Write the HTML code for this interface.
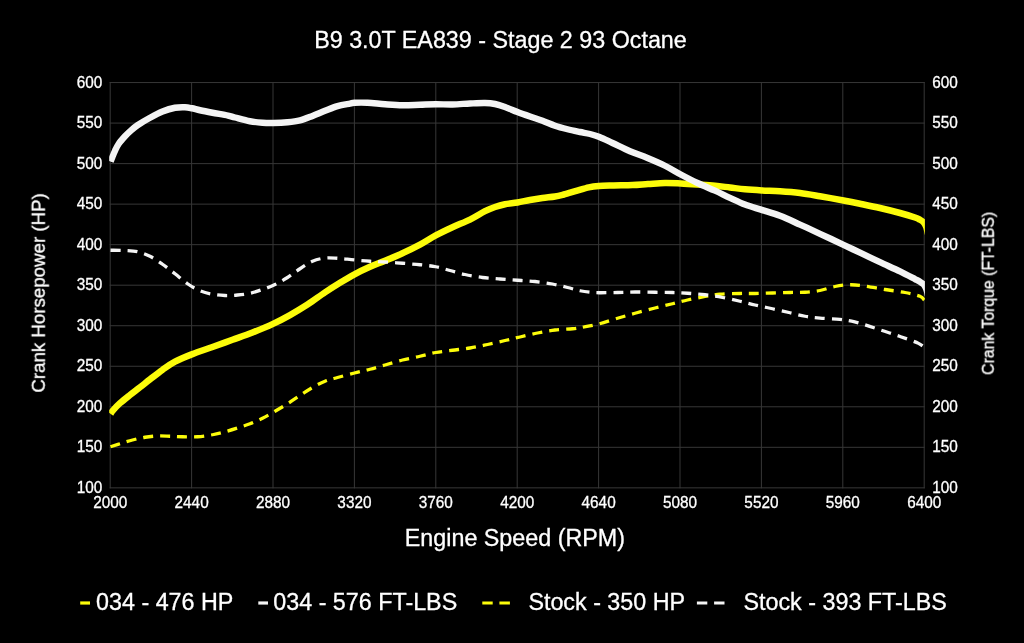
<!DOCTYPE html>
<html><head><meta charset="utf-8"><title>B9 3.0T EA839 - Stage 2 93 Octane</title>
<style>html,body{margin:0;padding:0;background:#000;}body{width:1024px;height:643px;overflow:hidden;}svg{display:block;}text{font-family:"Liberation Sans",sans-serif;fill:#fff;stroke:#fff;stroke-width:0.3px;}</style></head><body>
<svg width="1024" height="643" viewBox="0 0 1024 643">
<rect width="1024" height="643" fill="#000"/>
<defs><clipPath id="pc"><rect x="109.20" y="77.55" width="815.70" height="415.30"/></clipPath></defs>
<path d="M110.20,82.05V488.35M191.60,82.05V488.35M273.00,82.05V488.35M354.40,82.05V488.35M435.80,82.05V488.35M517.20,82.05V488.35M598.60,82.05V488.35M680.00,82.05V488.35M761.40,82.05V488.35M842.80,82.05V488.35M924.20,82.05V488.35M109.70,82.55H924.70M109.70,123.08H924.70M109.70,163.61H924.70M109.70,204.14H924.70M109.70,244.67H924.70M109.70,285.20H924.70M109.70,325.73H924.70M109.70,366.26H924.70M109.70,406.79H924.70M109.70,447.32H924.70M109.70,487.85H924.70" stroke="#373737" stroke-width="1.00" fill="none"/>
<g clip-path="url(#pc)" fill="none" stroke-linejoin="round">
<path d="M110.60,413.80 C111.00,413.22 111.43,412.07 113.00,410.30 C114.57,408.53 117.17,405.75 120.00,403.20 C122.83,400.65 126.67,397.65 130.00,395.00 C133.33,392.35 136.67,389.90 140.00,387.30 C143.33,384.70 146.25,382.32 150.00,379.40 C153.75,376.48 158.33,372.77 162.50,369.80 C166.67,366.83 170.12,364.17 175.00,361.60 C179.88,359.03 185.50,356.83 191.75,354.40 C198.00,351.97 205.71,349.43 212.50,347.00 C219.29,344.57 225.83,342.22 232.50,339.80 C239.17,337.38 245.75,335.15 252.50,332.50 C259.25,329.85 266.75,326.80 273.00,323.90 C279.25,321.00 284.25,318.32 290.00,315.10 C295.75,311.88 301.67,308.38 307.50,304.60 C313.33,300.82 319.58,296.03 325.00,292.40 C330.42,288.77 335.08,285.82 340.00,282.80 C344.92,279.78 349.50,276.97 354.50,274.30 C359.50,271.63 364.92,269.07 370.00,266.80 C375.08,264.53 379.58,262.97 385.00,260.70 C390.42,258.43 396.67,255.88 402.50,253.20 C408.33,250.52 414.46,247.57 420.00,244.60 C425.54,241.63 430.33,238.30 435.75,235.40 C441.17,232.50 446.79,229.83 452.50,227.20 C458.21,224.57 464.58,222.27 470.00,219.60 C475.42,216.93 480.83,213.30 485.00,211.20 C489.17,209.10 491.67,208.16 495.00,207.00 C498.33,205.84 501.25,205.00 505.00,204.25 C508.75,203.50 513.33,203.21 517.50,202.50 C521.67,201.79 525.83,200.75 530.00,200.00 C534.17,199.25 538.33,198.58 542.50,198.00 C546.67,197.42 551.46,197.08 555.00,196.50 C558.54,195.92 560.21,195.43 563.75,194.50 C567.29,193.57 572.08,192.10 576.25,190.90 C580.42,189.70 585.00,188.13 588.75,187.30 C592.50,186.47 594.58,186.22 598.75,185.90 C602.92,185.58 608.12,185.55 613.75,185.40 C619.38,185.25 626.79,185.23 632.50,185.00 C638.21,184.77 642.58,184.33 648.00,184.00 C653.42,183.67 659.54,183.08 665.00,183.00 C670.46,182.92 675.33,183.25 680.75,183.50 C686.17,183.75 691.79,184.12 697.50,184.50 C703.21,184.88 709.58,185.25 715.00,185.75 C720.42,186.25 725.00,186.92 730.00,187.50 C735.00,188.08 739.71,188.77 745.00,189.25 C750.29,189.73 755.92,190.08 761.75,190.40 C767.58,190.72 773.62,190.77 780.00,191.20 C786.38,191.63 793.33,192.16 800.00,193.00 C806.67,193.84 812.75,195.00 820.00,196.25 C827.25,197.50 836.83,199.25 843.50,200.50 C850.17,201.75 853.92,202.50 860.00,203.75 C866.08,205.00 873.33,206.46 880.00,208.00 C886.67,209.54 894.17,211.42 900.00,213.00 C905.83,214.58 911.67,216.37 915.00,217.50 C918.33,218.63 918.57,218.98 920.00,219.80 C921.43,220.62 922.60,221.30 923.60,222.40 C924.60,223.50 925.40,225.07 926.00,226.40 C926.60,227.73 926.88,229.13 927.20,230.40 C927.52,231.67 927.78,233.40 927.90,234.00" stroke="#fcfc0a" stroke-width="6.5"/>
<path d="M110.60,161.60 C110.92,160.80 111.77,158.60 112.50,156.80 C113.23,155.00 113.96,152.98 115.00,150.80 C116.04,148.62 117.08,146.18 118.75,143.75 C120.42,141.32 123.12,138.32 125.00,136.25 C126.88,134.18 127.92,133.13 130.00,131.30 C132.08,129.47 134.17,127.51 137.50,125.25 C140.83,122.99 145.83,120.04 150.00,117.75 C154.17,115.46 158.33,113.17 162.50,111.50 C166.67,109.83 171.25,108.46 175.00,107.75 C178.75,107.04 182.18,107.17 185.00,107.25 C187.82,107.33 189.40,107.75 191.90,108.25 C194.40,108.75 196.57,109.50 200.00,110.25 C203.43,111.00 207.83,111.86 212.50,112.75 C217.17,113.64 224.25,114.81 228.00,115.60 C231.75,116.39 231.33,116.56 235.00,117.50 C238.67,118.44 245.42,120.38 250.00,121.25 C254.58,122.12 258.67,122.46 262.50,122.75 C266.33,123.04 268.83,123.08 273.00,123.00 C277.17,122.92 283.00,122.73 287.50,122.30 C292.00,121.87 295.83,121.47 300.00,120.40 C304.17,119.33 308.33,117.50 312.50,115.90 C316.67,114.30 320.83,112.43 325.00,110.80 C329.17,109.17 333.33,107.30 337.50,106.10 C341.67,104.90 347.17,104.16 350.00,103.60 C352.83,103.04 351.58,102.89 354.50,102.75 C357.42,102.61 362.42,102.50 367.50,102.75 C372.58,103.00 379.17,103.83 385.00,104.25 C390.83,104.67 396.67,105.17 402.50,105.25 C408.33,105.33 414.46,104.92 420.00,104.75 C425.54,104.58 430.33,104.29 435.75,104.25 C441.17,104.21 446.79,104.62 452.50,104.50 C458.21,104.38 464.58,103.75 470.00,103.50 C475.42,103.25 480.83,102.92 485.00,103.00 C489.17,103.08 491.67,103.33 495.00,104.00 C498.33,104.67 501.25,105.67 505.00,107.00 C508.75,108.33 513.33,110.42 517.50,112.00 C521.67,113.58 525.83,115.04 530.00,116.50 C534.17,117.96 538.33,119.21 542.50,120.75 C546.67,122.29 550.83,124.33 555.00,125.75 C559.17,127.17 563.33,128.21 567.50,129.25 C571.67,130.29 576.25,131.21 580.00,132.00 C583.75,132.79 586.75,133.17 590.00,134.00 C593.25,134.83 595.75,135.50 599.50,137.00 C603.25,138.50 607.42,140.62 612.50,143.00 C617.58,145.38 624.17,148.75 630.00,151.25 C635.83,153.75 641.67,155.58 647.50,158.00 C653.33,160.42 659.46,163.00 665.00,165.75 C670.54,168.50 675.33,171.62 680.75,174.50 C686.17,177.38 691.79,180.30 697.50,183.00 C703.21,185.70 709.58,188.23 715.00,190.70 C720.42,193.17 725.00,195.50 730.00,197.80 C735.00,200.10 739.71,202.48 745.00,204.50 C750.29,206.52 755.92,208.02 761.75,209.90 C767.58,211.78 773.62,213.35 780.00,215.80 C786.38,218.25 793.33,221.60 800.00,224.60 C806.67,227.60 812.75,230.43 820.00,233.80 C827.25,237.17 836.83,241.65 843.50,244.80 C850.17,247.95 853.92,249.80 860.00,252.70 C866.08,255.60 873.33,259.08 880.00,262.20 C886.67,265.32 894.17,268.58 900.00,271.40 C905.83,274.22 911.67,277.37 915.00,279.10 C918.33,280.83 918.57,280.92 920.00,281.80 C921.43,282.68 922.60,283.30 923.60,284.40 C924.60,285.50 925.40,287.10 926.00,288.40 C926.60,289.70 926.88,291.02 927.20,292.20 C927.52,293.38 927.78,294.95 927.90,295.50" stroke="#f4f4f4" stroke-width="6.4"/>
<path d="M110.50,446.75 C112.08,446.25 116.33,444.88 120.00,443.75 C123.67,442.62 128.33,441.08 132.50,440.00 C136.67,438.92 140.83,437.92 145.00,437.25 C149.17,436.58 153.33,436.17 157.50,436.00 C161.67,435.83 165.83,436.12 170.00,436.25 C174.17,436.38 177.92,436.67 182.50,436.75 C187.08,436.83 192.50,437.08 197.50,436.75 C202.50,436.42 207.92,435.58 212.50,434.75 C217.08,433.92 220.83,432.88 225.00,431.75 C229.17,430.62 233.33,429.33 237.50,428.00 C241.67,426.67 245.83,425.38 250.00,423.75 C254.17,422.12 258.33,420.33 262.50,418.25 C266.67,416.17 270.83,413.67 275.00,411.25 C279.17,408.83 283.33,406.38 287.50,403.75 C291.67,401.12 295.83,398.21 300.00,395.50 C304.17,392.79 308.33,389.88 312.50,387.50 C316.67,385.12 320.83,382.92 325.00,381.25 C329.17,379.58 332.58,378.88 337.50,377.50 C342.42,376.12 349.08,374.38 354.50,373.00 C359.92,371.62 364.92,370.58 370.00,369.25 C375.08,367.92 379.58,366.54 385.00,365.00 C390.42,363.46 396.67,361.46 402.50,360.00 C408.33,358.54 414.46,357.50 420.00,356.25 C425.54,355.00 430.33,353.50 435.75,352.50 C441.17,351.50 446.79,351.00 452.50,350.25 C458.21,349.50 464.17,348.96 470.00,348.00 C475.83,347.04 481.67,345.75 487.50,344.50 C493.33,343.25 499.58,341.75 505.00,340.50 C510.42,339.25 514.58,338.25 520.00,337.00 C525.42,335.75 531.67,334.17 537.50,333.00 C543.33,331.83 549.17,330.71 555.00,330.00 C560.83,329.29 567.71,329.25 572.50,328.75 C577.29,328.25 579.25,327.83 583.75,327.00 C588.25,326.17 593.88,325.21 599.50,323.75 C605.12,322.29 611.58,320.00 617.50,318.25 C623.42,316.50 628.75,314.96 635.00,313.25 C641.25,311.54 648.75,309.58 655.00,308.00 C661.25,306.42 667.08,305.08 672.50,303.75 C677.92,302.42 682.08,301.21 687.50,300.00 C692.92,298.79 699.58,297.46 705.00,296.50 C710.42,295.54 714.17,294.75 720.00,294.25 C725.83,293.75 734.17,293.62 740.00,293.50 C745.83,293.38 749.58,293.58 755.00,293.50 C760.42,293.42 766.67,293.17 772.50,293.00 C778.33,292.83 784.58,292.62 790.00,292.50 C795.42,292.38 800.00,292.58 805.00,292.25 C810.00,291.92 815.00,291.46 820.00,290.50 C825.00,289.54 830.00,287.46 835.00,286.50 C840.00,285.54 845.00,284.83 850.00,284.75 C855.00,284.67 859.17,285.21 865.00,286.00 C870.83,286.79 878.33,288.42 885.00,289.50 C891.67,290.58 899.17,291.38 905.00,292.50 C910.83,293.62 916.79,295.00 920.00,296.25 C923.21,297.50 923.54,299.38 924.25,300.00" stroke="#fcfc0a" stroke-width="3.3" stroke-dasharray="10 7"/>
<path d="M110.50,250.25 C112.92,250.29 120.50,250.25 125.00,250.50 C129.50,250.75 133.33,250.79 137.50,251.75 C141.67,252.71 145.83,254.17 150.00,256.25 C154.17,258.33 158.33,261.33 162.50,264.25 C166.67,267.17 170.83,270.50 175.00,273.75 C179.17,277.00 183.33,280.92 187.50,283.75 C191.67,286.58 195.83,289.00 200.00,290.75 C204.17,292.50 208.33,293.46 212.50,294.25 C216.67,295.04 220.83,295.38 225.00,295.50 C229.17,295.62 233.33,295.38 237.50,295.00 C241.67,294.62 245.83,294.17 250.00,293.25 C254.17,292.33 258.33,290.96 262.50,289.50 C266.67,288.04 270.83,286.50 275.00,284.50 C279.17,282.50 283.33,280.12 287.50,277.50 C291.67,274.88 295.83,271.46 300.00,268.75 C304.17,266.04 308.33,263.04 312.50,261.25 C316.67,259.46 320.83,258.50 325.00,258.00 C329.17,257.50 332.58,257.92 337.50,258.25 C342.42,258.58 349.08,259.50 354.50,260.00 C359.92,260.50 364.92,260.92 370.00,261.25 C375.08,261.58 379.58,261.67 385.00,262.00 C390.42,262.33 396.67,262.79 402.50,263.25 C408.33,263.71 414.46,264.17 420.00,264.75 C425.54,265.33 430.75,265.79 435.75,266.75 C440.75,267.71 445.12,269.21 450.00,270.50 C454.88,271.79 459.58,273.33 465.00,274.50 C470.42,275.67 476.67,276.75 482.50,277.50 C488.33,278.25 494.17,278.54 500.00,279.00 C505.83,279.46 511.67,279.83 517.50,280.25 C523.33,280.67 529.17,280.88 535.00,281.50 C540.83,282.12 547.08,283.00 552.50,284.00 C557.92,285.00 562.92,286.38 567.50,287.50 C572.08,288.62 576.25,289.96 580.00,290.75 C583.75,291.54 586.75,291.92 590.00,292.25 C593.25,292.58 594.92,292.71 599.50,292.75 C604.08,292.79 611.58,292.62 617.50,292.50 C623.42,292.38 628.75,292.04 635.00,292.00 C641.25,291.96 648.75,292.17 655.00,292.25 C661.25,292.33 667.08,292.33 672.50,292.50 C677.92,292.67 682.08,292.88 687.50,293.25 C692.92,293.62 699.17,294.04 705.00,294.75 C710.83,295.46 716.67,296.42 722.50,297.50 C728.33,298.58 734.58,300.00 740.00,301.25 C745.42,302.50 749.58,303.75 755.00,305.00 C760.42,306.25 766.67,307.46 772.50,308.75 C778.33,310.04 784.58,311.50 790.00,312.75 C795.42,314.00 800.00,315.36 805.00,316.25 C810.00,317.14 814.20,317.58 820.00,318.10 C825.80,318.62 834.02,318.77 839.80,319.40 C845.58,320.03 849.72,320.73 854.70,321.90 C859.68,323.07 864.72,324.83 869.70,326.40 C874.68,327.97 879.63,329.65 884.60,331.30 C889.57,332.95 894.95,334.73 899.50,336.30 C904.05,337.87 908.73,339.52 911.90,340.70 C915.07,341.88 916.45,342.35 918.50,343.40 C920.55,344.45 923.25,346.40 924.20,347.00" stroke="#f4f4f4" stroke-width="3.3" stroke-dasharray="10 7"/>
</g>
<path d="M80.2,603.0H90" stroke="#fcfc0a" stroke-width="3.2"/>
<path d="M258.3,603.0H268" stroke="#f4f4f4" stroke-width="3.2"/>
<path d="M482.3,603.0H492.7M499.4,603.0H509.9" stroke="#fcfc0a" stroke-width="3.2"/>
<path d="M696.9,603.0H707.3M714.1,603.0H724.5" stroke="#f4f4f4" stroke-width="3.2"/>
<g style="filter:grayscale(1)">
<text x="314.2" y="47.8" font-size="23.3">B9 3.0T EA839 - Stage 2 93 Octane</text>
<text x="404.8" y="546.0" font-size="23.3">Engine Speed (RPM)</text>
<text transform="translate(102.3,87.5) scale(0.930,1)" font-size="16.5" text-anchor="end">600</text>
<text transform="translate(932.2,87.5) scale(0.930,1)" font-size="16.5">600</text>
<text transform="translate(102.3,128.1) scale(0.930,1)" font-size="16.5" text-anchor="end">550</text>
<text transform="translate(932.2,128.1) scale(0.930,1)" font-size="16.5">550</text>
<text transform="translate(102.3,168.6) scale(0.930,1)" font-size="16.5" text-anchor="end">500</text>
<text transform="translate(932.2,168.6) scale(0.930,1)" font-size="16.5">500</text>
<text transform="translate(102.3,209.1) scale(0.930,1)" font-size="16.5" text-anchor="end">450</text>
<text transform="translate(932.2,209.1) scale(0.930,1)" font-size="16.5">450</text>
<text transform="translate(102.3,249.7) scale(0.930,1)" font-size="16.5" text-anchor="end">400</text>
<text transform="translate(932.2,249.7) scale(0.930,1)" font-size="16.5">400</text>
<text transform="translate(102.3,290.2) scale(0.930,1)" font-size="16.5" text-anchor="end">350</text>
<text transform="translate(932.2,290.2) scale(0.930,1)" font-size="16.5">350</text>
<text transform="translate(102.3,330.7) scale(0.930,1)" font-size="16.5" text-anchor="end">300</text>
<text transform="translate(932.2,330.7) scale(0.930,1)" font-size="16.5">300</text>
<text transform="translate(102.3,371.3) scale(0.930,1)" font-size="16.5" text-anchor="end">250</text>
<text transform="translate(932.2,371.3) scale(0.930,1)" font-size="16.5">250</text>
<text transform="translate(102.3,411.8) scale(0.930,1)" font-size="16.5" text-anchor="end">200</text>
<text transform="translate(932.2,411.8) scale(0.930,1)" font-size="16.5">200</text>
<text transform="translate(102.3,452.3) scale(0.930,1)" font-size="16.5" text-anchor="end">150</text>
<text transform="translate(932.2,452.3) scale(0.930,1)" font-size="16.5">150</text>
<text transform="translate(102.3,492.9) scale(0.930,1)" font-size="16.5" text-anchor="end">100</text>
<text transform="translate(932.2,492.9) scale(0.930,1)" font-size="16.5">100</text>
<text transform="translate(110.2,507.7) scale(0.930,1)" font-size="16.5" text-anchor="middle">2000</text>
<text transform="translate(191.6,507.7) scale(0.930,1)" font-size="16.5" text-anchor="middle">2440</text>
<text transform="translate(273.0,507.7) scale(0.930,1)" font-size="16.5" text-anchor="middle">2880</text>
<text transform="translate(354.4,507.7) scale(0.930,1)" font-size="16.5" text-anchor="middle">3320</text>
<text transform="translate(435.8,507.7) scale(0.930,1)" font-size="16.5" text-anchor="middle">3760</text>
<text transform="translate(517.2,507.7) scale(0.930,1)" font-size="16.5" text-anchor="middle">4200</text>
<text transform="translate(598.6,507.7) scale(0.930,1)" font-size="16.5" text-anchor="middle">4640</text>
<text transform="translate(680.0,507.7) scale(0.930,1)" font-size="16.5" text-anchor="middle">5080</text>
<text transform="translate(761.4,507.7) scale(0.930,1)" font-size="16.5" text-anchor="middle">5520</text>
<text transform="translate(842.8,507.7) scale(0.930,1)" font-size="16.5" text-anchor="middle">5960</text>
<text transform="translate(924.2,507.7) scale(0.930,1)" font-size="16.5" text-anchor="middle">6400</text>
<text transform="translate(44.8,292.9) rotate(-90)" font-size="18.7" text-anchor="middle">Crank Horsepower (HP)</text>
<text transform="translate(993.8,293.4) rotate(-90)" font-size="15.8" text-anchor="middle">Crank Torque (FT-LBS)</text>
<text x="96.1" y="609.6" font-size="23.3">034 - 476 HP</text>
<text x="273.3" y="609.6" font-size="23.3">034 - 576 FT-LBS</text>
<text x="528.4" y="609.6" font-size="23.3">Stock - 350 HP</text>
<text x="743.5" y="609.6" font-size="23.3">Stock - 393 FT-LBS</text>
</g>
</svg></body></html>
